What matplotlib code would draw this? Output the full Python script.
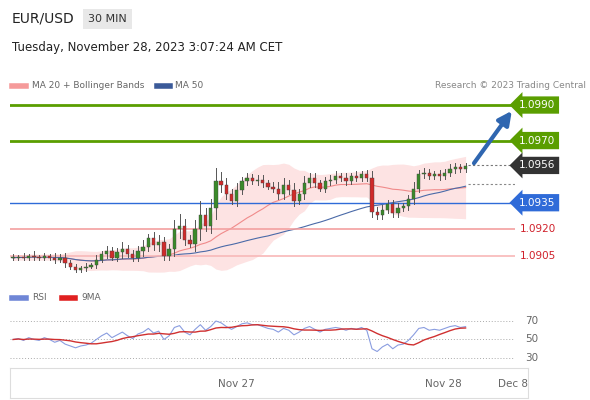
import numpy as np
import pandas as pd
import matplotlib
matplotlib.use("Agg")
import matplotlib.pyplot as plt
from matplotlib.patches import Rectangle

# closes in pips above 1.0900, one per 30 min candle
closes = [4, 4.5, 4, 5, 4.5, 4, 5, 4, 3, 4,
          1, -1, -3, -2, -1, 0, 3, 6, 8, 4,
          7, 9, 6, 4, 8, 10, 15, 11, 13, 5,
          9, 20, 22, 14, 12, 20, 28, 22, 32, 47,
          45, 40, 36, 42, 47, 49, 47, 48, 46, 44,
          43, 40, 45, 42, 36, 40, 46, 49, 46, 43,
          47, 48, 50, 49, 47, 50, 49, 51, 49, 30,
          28, 31, 34, 29, 32, 33, 37, 43, 51, 52,
          50, 51, 50, 52, 54, 55, 54, 55.6]
wicks = [1.5, 1, 1.5, 1, 2, 1, 1.5, 1, 2, 1.5,
         2, 1.5, 1, 1, 1.5, 1, 2, 1.5, 2, 1.5,
         2, 3, 1.5, 2, 2, 3, 2, 2.5, 3, 2,
         2, 4, 5, 3, 2, 4, 6, 3, 4, 6,
         4, 3, 2, 3, 2, 2, 1.5, 2, 2, 1.5,
         2, 3, 3, 2, 3, 2, 3, 2, 2, 1.5,
         2, 2, 2, 1.5, 2, 1.5, 2, 1.5, 2, 3,
         2, 2, 2, 2, 2, 1.5, 2, 3, 2, 2,
         1.5, 1.5, 2, 1.5, 2, 2, 1.5, 1.5]
rsi_vals = [50, 51, 49, 52, 50, 49, 52, 50, 47, 49,
            45, 43, 41, 43, 44, 46, 50, 54, 57, 52,
            55, 58, 54, 51, 56, 58, 62, 57, 59, 50,
            54, 63, 65, 58, 55, 61, 66, 60, 64, 70,
            68, 64, 61, 64, 67, 68, 66, 66, 64, 62,
            61, 58, 62, 60, 55, 58, 62, 64, 61, 58,
            61, 62, 63, 62, 60, 62, 61, 63, 60, 40,
            37, 42, 45, 40, 44, 45, 49, 55, 62, 63,
            60, 61, 60, 62, 64, 65, 63, 64]
levels = [1.0990, 1.0970, 1.0956, 1.0935, 1.0920, 1.0905]
level_cols = ["#5a9e00", "#5a9e00", "#333333", "#2f6bd8", "#f3a0a0", "#f8b8b8"]
x_ticks = [43, 82.7, 96.2]
x_labels = ["Nov 27", "Nov 28", "Dec 8"]

c = 1.09 + np.array(closes) / 10000
o = np.concatenate([[c[0]], c[:-1]])
w = np.array(wicks) / 10000
hi = np.maximum(o, c) + w * 1.3
lo = np.minimum(o, c) - w
n = len(c)
idx = np.arange(n)
s = pd.Series(c)
ma20 = s.rolling(20, min_periods=1).mean()
sd20 = s.rolling(20, min_periods=2).std().bfill()
ma50 = s.rolling(50, min_periods=1).mean()
rsi = pd.Series(rsi_vals, dtype=float)
rsi9 = rsi.rolling(9, min_periods=1).mean()

W, H = 590, 400
fig = plt.figure(figsize=(5.9, 4.0), dpi=100)
fig.patch.set_facecolor("white")

def px(l, t, r, b):
    return [l / W, 1 - b / H, (r - l) / W, (b - t) / H]

# header
fig.text(12 / W, 1 - 19 / H, "EUR/USD", fontsize=10, color="#222", va="center")
fig.text(88 / W, 1 - 19 / H, "30 MIN", fontsize=8, color="#333", va="center",
         bbox=dict(boxstyle="square,pad=0.45", fc="#e8e8e8", ec="none"))
fig.text(12 / W, 1 - 48 / H, "Tuesday, November 28, 2023 3:07:24 AM CET",
         fontsize=8.5, color="#222", va="center")
fig.add_artist(plt.Line2D([12 / W, 26 / W], [1 - 86 / H] * 2, color="#f59a9a", lw=4))
fig.text(32 / W, 1 - 86 / H, "MA 20 + Bollinger Bands", fontsize=6.5, color="#666", va="center")
fig.add_artist(plt.Line2D([157 / W, 170 / W], [1 - 86 / H] * 2, color="#3b5a99", lw=4))
fig.text(175 / W, 1 - 86 / H, "MA 50", fontsize=6.5, color="#666", va="center")
fig.text(586 / W, 1 - 86 / H, "Research \u00a9 2023 Trading Central", fontsize=6.5,
         color="#888", va="center", ha="right")

# price panel
ax = fig.add_axes(px(10, 95, 515, 275))
ax.set_xlim(-0.6, 96.5)
ax.set_ylim(1.0905 - 19 / 17760, 1.0905 + 161 / 17760)
ax.axis("off")
ax.fill_between(idx, ma20 + 1.6 * sd20 + 0.0001, ma20 - 1.6 * sd20 - 0.0001,
                color="#fde3e3", lw=0, zorder=1)
ax.plot(idx, ma20, color="#f08a8a", lw=0.8, zorder=2)
ax.plot(idx, ma50, color="#4a6aa8", lw=0.8, zorder=2)
for i in range(n):
    col = "#3a8a2a" if c[i] >= o[i] else "#d02a2a"
    ax.plot([i, i], [lo[i], hi[i]], color="#555", lw=0.7, zorder=3)
    ax.add_patch(Rectangle((i - 0.32, min(o[i], c[i])), 0.64,
                           max(abs(c[i] - o[i]), 0.00004), fc=col, ec="#444",
                           lw=0.3, zorder=4))
for lv, lc in zip(levels, level_cols):
    if lv == 1.0956:
        ax.plot([n - 0.5, 96.5], [lv, lv], color="#777", lw=0.8, ls=(0, (2, 2)))
        tc, bg = "white", "#333333"
    elif lv in (1.0920, 1.0905):
        ax.axhline(lv, color=lc, lw=1.2)
        tc, bg = "#d0202a", "none"
    else:
        ax.axhline(lv, color=lc, lw=2 if lc == "#5a9e00" else 1)
        tc, bg = "white", lc
    ax.text(97.5 if bg == "none" else 97.3, lv, f"{lv:.4f}", fontsize=7.5, color=tc,
            va="center", ha="left", clip_on=False,
            bbox=None if bg == "none" else dict(boxstyle="larrow,pad=0.35", fc=bg, ec="none"))
ax.plot([n - 0.5, 96.5], [1.09455, 1.09455], color="#888", lw=0.8, ls=(0, (2, 2)))
ax.annotate("", xy=(96.2, 1.0988), xytext=(88.3, 1.0956),
            arrowprops=dict(arrowstyle="-|>,head_width=0.4,head_length=0.8",
                            color="#2f66b0", lw=3))

# RSI panel
fig.add_artist(plt.Line2D([12 / W, 26 / W], [1 - 298 / H] * 2, color="#6f86d6", lw=4))
fig.text(32 / W, 1 - 298 / H, "RSI", fontsize=6.5, color="#666", va="center")
fig.add_artist(plt.Line2D([62 / W, 75 / W], [1 - 298 / H] * 2, color="#e02020", lw=4))
fig.text(81 / W, 1 - 298 / H, "9MA", fontsize=6.5, color="#666", va="center")
ar = fig.add_axes(px(10, 315, 515, 365))
ar.set_xlim(-0.6, 96.5)
ar.set_ylim(22.4, 76.5)
ar.axis("off")
for g in (70, 50, 30):
    ar.axhline(g, color="#aaa", lw=0.7, ls=(0, (1, 2)))
    ar.text(98.5, g, str(g), fontsize=7.5, color="#666", va="center", clip_on=False)
ar.plot(idx, rsi, color="#8a9de0", lw=0.8)
ar.plot(idx, rsi9, color="#d03030", lw=1)

# time axis
at = fig.add_axes(px(10, 368, 528, 398))
at.set_xlim(-0.6, 96.5 + 13 / 5.2)
at.set_ylim(0, 1)
at.set_yticks([])
at.set_xticks(x_ticks)
at.set_xticklabels(x_labels, fontsize=7.5, color="#666")
at.tick_params(axis="x", direction="in", pad=-14, length=0)
for sp in at.spines.values():
    sp.set_color("#ddd")

fig.savefig("out.png", dpi=100)
